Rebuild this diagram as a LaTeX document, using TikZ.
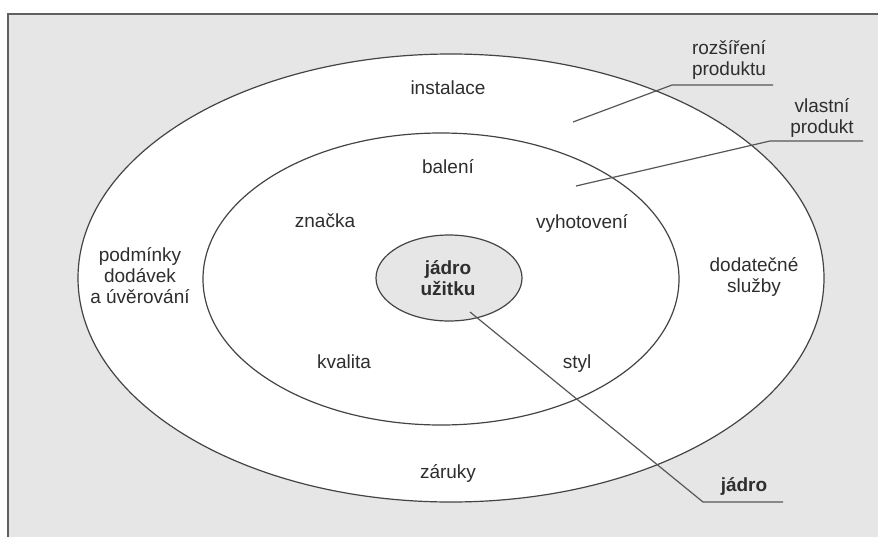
\documentclass[tikz,border=0pt]{standalone}
\usepackage{fontspec}
\setmainfont{Liberation Sans}
\usetikzlibrary{shapes.geometric}
\definecolor{bgray}{HTML}{E6E6E6}
\definecolor{edge}{HTML}{444444}
\definecolor{txt}{HTML}{2E2E2E}
\begin{document}
\begin{tikzpicture}[x=1pt,y=-1pt,
  ring/.style={ellipse, draw=edge, line width=1.2pt, inner sep=0pt},
  lbl/.style={text=txt, font=\fontsize{19}{21}\selectfont, inner sep=0pt, align=center, anchor=base},
  leader/.style={draw=edge!90, line width=1.2pt}]
\useasboundingbox (0,0) rectangle (878,536);
\fill[bgray] (8,14) rectangle (890,550);
\draw[gray!75!black, line width=2pt] (8,550) -- (8,14) -- (890,14);
\node[ring, fill=white, minimum width=746pt, minimum height=448pt] (outer) at (451,278) {};
\node[ring, fill=white, minimum width=476pt, minimum height=292pt] (middle) at (441,279) {};
\node[ring, fill=bgray, minimum width=146pt, minimum height=86pt] (inner) at (449,278) {};
% labels
\node[lbl] (rozs) at (729,75) {rozšíření\\produktu};
\node[lbl] (vlast) at (822,133) {vlastní\\produkt};
\node[lbl] (inst) at (448,94) {instalace};
\node[lbl] (bal) at (448,173) {balení};
\node[lbl] (znac) at (325,227) {značka};
\node[lbl] (vyho) at (582,228) {vyhotovení};
\node[lbl] (podm) at (140,303) {podmínky\\dodávek\\a úvěrování};
\node[lbl] (dodat) at (754,292) {dodatečné\\služby};
\node[lbl, font=\fontsize{19}{21}\selectfont\bfseries] (jadu) at (448,295) {jádro\\užitku};
\node[lbl] (kval) at (344,368) {kvalita};
\node[lbl] (styl) at (577,368) {styl};
\node[lbl] (zar) at (448,478) {záruky};
\node[lbl, font=\fontsize{19}{21}\selectfont\bfseries] (jadro) at (744,491) {jádro};
% leader lines
\coordinate (r1) at (573,122); \coordinate (r2) at (672,85); \coordinate (r3) at (773,85);
\coordinate (v1) at (576,186); \coordinate (v2) at (770,141); \coordinate (v3) at (863,141);
\coordinate (j1) at (470,312); \coordinate (j2) at (703,502); \coordinate (j3) at (783,502);
\draw[leader] (r1) -- (r2) -- (r3);
\draw[leader] (v1) -- (v2) -- (v3);
\draw[leader] (j1) -- (j2) -- (j3);
\end{tikzpicture}
\end{document}
